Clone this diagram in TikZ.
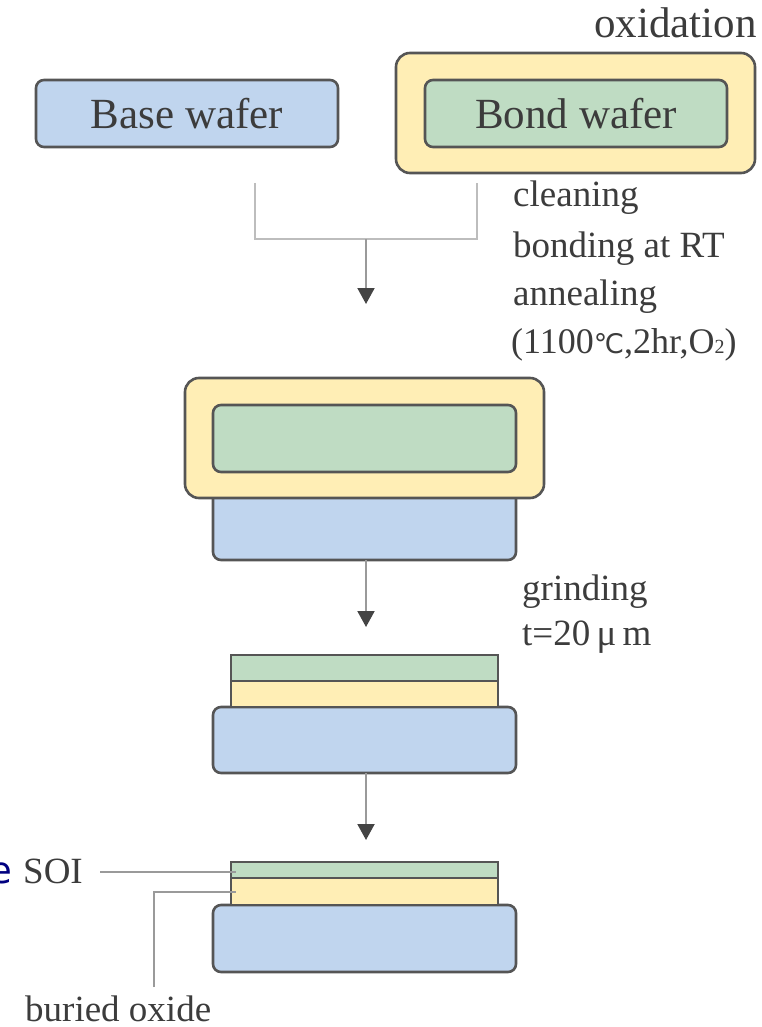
\documentclass[tikz,border=0pt]{standalone}
\usepackage{fontspec}
\setmainfont{Liberation Serif}
\newfontfamily\degfont{DejaVu Sans}
\newfontfamily\navyfont{DejaVu Sans}
\usetikzlibrary{arrows.meta}

\definecolor{wblue}{HTML}{C0D5EE}
\definecolor{wgreen}{HTML}{BFDCC3}
\definecolor{wyellow}{HTML}{FFEEB5}
\definecolor{edge}{HTML}{555555}
\definecolor{ink}{HTML}{3C3C3C}
\definecolor{lgrey}{HTML}{BDBDBD}
\definecolor{mgrey}{HTML}{9A9A9A}
\definecolor{tipc}{HTML}{444444}
\definecolor{navy}{HTML}{000080}

\begin{document}
\begin{tikzpicture}[x=1pt,y=-1pt,
  layer/.style={draw=edge, line width=2.6pt, inner sep=0pt, outer sep=0pt},
  wafer/.style={layer, rounded corners=8pt},
  bluewafer/.style={wafer, fill=wblue},
  greenwafer/.style={wafer, fill=wgreen},
  oxidebox/.style={layer, rounded corners=14pt, fill=wyellow},
  greenlayer/.style={layer, fill=wgreen},
  yellowlayer/.style={layer, fill=wyellow},
  boxtext/.style={text=ink, font=\fontsize{43}{50}\selectfont},
  note/.style={text=ink, inner sep=0pt, font=\fontsize{37}{44}\selectfont},
  bracket/.style={draw=lgrey, line width=2.4pt},
  flow/.style={draw=mgrey, line width=2pt, -{Triangle[width=17pt,length=16pt,color=tipc]}},
  leader/.style={draw=mgrey, line width=2.2pt}
]
\useasboundingbox (0,0) rectangle (762,1027);

% --- top row: base wafer and oxidised bond wafer
\node[bluewafer, minimum width=302pt, minimum height=67pt] (base) at (187,113.5) {};
\node[boxtext] (basetext) at (187,113.5) {Base wafer};
\node[oxidebox, minimum width=359pt, minimum height=120pt] (ox1) at (575.5,113) {};
\node[greenwafer, minimum width=302pt, minimum height=67pt] (bond) at (576,113.5) {};
\node[boxtext] (bondtext) at (576,113.5) {Bond wafer};
\node[note, font=\fontsize{43}{50}\selectfont, anchor=base east] (oxlab) at (757,38) {oxidation};

% --- joining bracket and first step
\coordinate (bl) at (255,183);
\coordinate (br) at (477,183);
\coordinate (j1) at (366,239);
\coordinate (t1) at (366,304);
\draw[bracket] (bl) -- (bl |- j1) -- (br |- j1) -- (br);
\draw[flow] (j1) -- (t1);
\node[note, anchor=base west] (s1a) at (513,207) {cleaning};
\node[note, anchor=base west] (s1b) at (513,257) {bonding at RT};
\node[note, anchor=base west] (s1c) at (513,305) {annealing};
\node[note, anchor=base west, font=\fontsize{36}{44}\selectfont] (s1d) at (511,353)
  {(1100{\degfont\fontsize{27}{36}\selectfont ℃},2hr,O{\fontsize{20}{24}\selectfont 2})};

% --- bonded pair
\node[bluewafer, minimum width=303pt, minimum height=80pt] (blue2) at (364.5,520) {};
\node[oxidebox, minimum width=359pt, minimum height=120pt] (ox2) at (364.5,438) {};
\node[greenwafer, minimum width=303pt, minimum height=67pt] (green2) at (364.5,438.5) {};

% --- grinding
\coordinate (t2) at (366,627);
\draw[flow] (blue2.south -| t2) -- (t2);
\node[note, anchor=base west] (s2a) at (522,600) {grinding};
\node[note, anchor=base west] (s2b) at (522,645) {t=20\,μ\,m};

% --- thinned stack
\node[bluewafer, minimum width=303pt, minimum height=66pt] (blue3) at (364.5,740) {};
\node[yellowlayer, minimum width=267pt, minimum height=26pt] (yel3) at (364.5,694) {};
\node[greenlayer, minimum width=267pt, minimum height=26pt] (green3) at (364.5,668) {};

\coordinate (t3) at (366,840);
\draw[flow] (blue3.south -| t3) -- (t3);

% --- finished SOI wafer
\node[bluewafer, minimum width=303pt, minimum height=67pt] (blue4) at (364.5,938.5) {};
\node[yellowlayer, minimum width=267pt, minimum height=27pt] (yel4) at (364.5,891.5) {};
\node[greenlayer, minimum width=267pt, minimum height=16pt] (green4) at (364.5,870) {};

% --- labels for the finished wafer
\node[note, anchor=base west] (soi) at (23,883) {SOI};
\node[inner sep=0pt, anchor=base east, text=navy, font=\navyfont\fontsize{37}{44}\selectfont] (cut) at (12.5,883) {e};
\coordinate (soiL) at (100,872);
\draw[leader] (soiL) -- ([xshift=5pt]green4.west |- soiL);
\coordinate (boxL) at (154,987);
\draw[leader] (boxL) -- (boxL |- 0,892) -- ([xshift=5pt]yel4.west |- 0,892);
\node[note, anchor=base west] (box) at (25,1021) {buried oxide};
\end{tikzpicture}
\end{document}
